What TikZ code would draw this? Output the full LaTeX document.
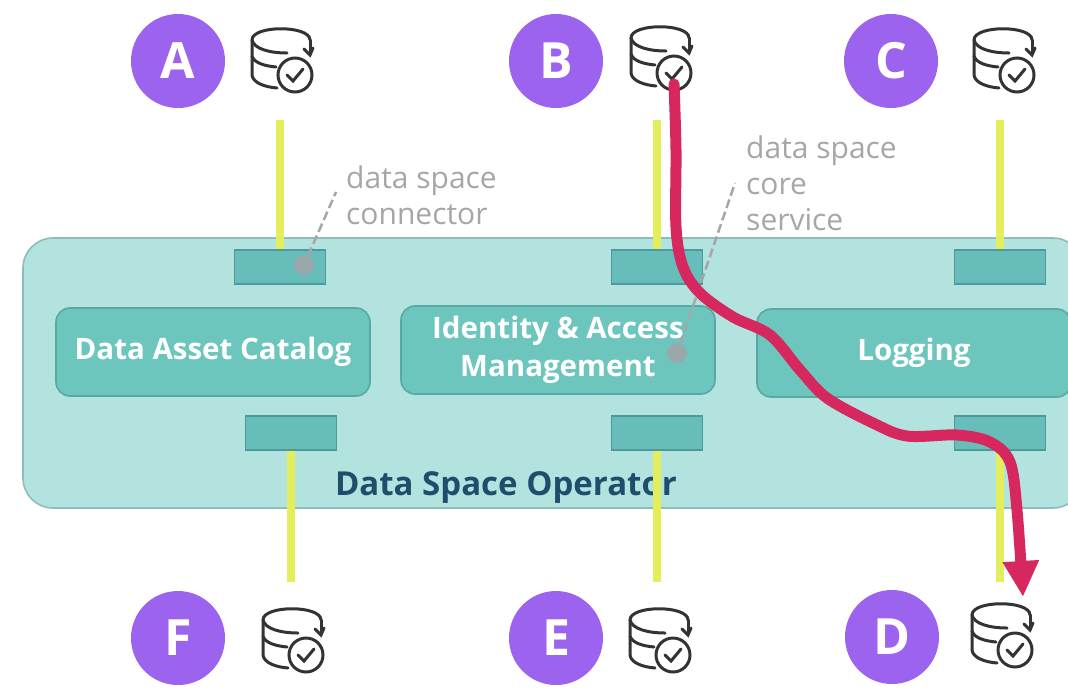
\documentclass[tikz,border=0pt]{standalone}
\usepackage{fontspec}
\setmainfont{Open Sans}
\usetikzlibrary{arrows.meta}
\definecolor{opfill}{HTML}{B3E3DF}
\definecolor{opline}{HTML}{8DBDBB}
\definecolor{svcfill}{HTML}{6CC6BE}
\definecolor{svcline}{HTML}{58A8A4}
\definecolor{portfill}{HTML}{66BDB9}
\definecolor{portline}{HTML}{4E9A9A}
\definecolor{purple}{HTML}{9B63EE}
\definecolor{lineyellow}{HTML}{E4EE5C}
\definecolor{routered}{HTML}{D6275F}
\definecolor{notegray}{HTML}{A6A6A6}
\definecolor{dotgray}{HTML}{9AA8AC}
\definecolor{opnavy}{HTML}{1E4E6C}
\tikzset{
  opbox/.style={draw=opline, line width=1.6pt, fill=opfill, rounded corners=30pt, minimum width=1060pt, minimum height=270pt, inner sep=0pt},
  svcbox/.style={draw=svcline, line width=1.6pt, fill=svcfill, rounded corners=14pt, minimum width=314pt, minimum height=88pt, inner sep=0pt, text=white, align=center, font=\fontsize{29.5}{38}\selectfont\bfseries},
  portbox/.style={draw=portline, line width=1.6pt, fill=portfill, minimum width=91pt, minimum height=34pt, inner sep=0pt},
  member/.style={circle, fill=purple, minimum size=94pt, inner sep=0pt, text=white, font=\fontsize{50}{50}\selectfont\bfseries},
  yline/.style={draw=lineyellow, line width=8pt},
  route/.style={draw=routered, line width=11pt, line cap=round, line join=round, -{Triangle[length=36pt,width=34pt]}},
  note/.style={text=notegray, align=left, anchor=west, inner sep=0pt, font=\fontsize{30}{36}\selectfont},
  notedot/.style={circle, fill=dotgray, minimum size=20pt, inner sep=0pt},
  noteline/.style={draw=notegray, line width=2.5pt, dash pattern=on 9pt off 4pt},
  dbline/.style={draw=black!80, line width=3pt, line cap=round},
  dbicon/.pic={
    \draw[dbline] (2,12) .. controls (2,-3) and (60,-3) .. (60,12);
    \draw[dbline] (2,12) .. controls (4,21) and (20,25) .. (37,25);
    \draw[dbline] (2,12) -- (2,28) .. controls (4,35) and (15,38) .. (26,39);
    \draw[dbline] (2,28) -- (2,47) .. controls (3,55) and (15,59) .. (27,60);
    \draw[dbline] (60,12) -- (60,26);
    \draw[dbline] (54,21) -- (60,27) -- (63,20);
    \draw[dbline] (45,47) circle (17pt);
    \draw[dbline] (37,47) -- (43,53) -- (53,41);
  }
}
\begin{document}
\begin{tikzpicture}[x=1pt,y=-1pt]
\useasboundingbox (0,0) rectangle (1068,689);
\clip (0,0) rectangle (1068,689);
\node[opbox] (operator) at (553,373) {};
\node[svcbox] (catalog) at (213,352) {Data Asset Catalog};
\node[svcbox] (identity) at (558,350) {Identity \& Access\\Management};
\node[svcbox] (logging) at (914,353) {Logging};
\node[font=\fontsize{33}{33}\selectfont\bfseries, text=opnavy] (opname) at (506,487) {Data Space Operator};
\node[portbox] (portA) at (280,267) {};
\node[portbox] (portB) at (657,267) {};
\node[portbox] (portC) at (1000,267) {};
\node[portbox] (portF) at (291,433) {};
\node[portbox] (portE) at (657,433) {};
\node[portbox] (portD) at (1000,433) {};
\node[member] (memberA) at (178,61) {A};
\node[member] (memberB) at (556,61) {B};
\node[member] (memberC) at (891,61) {C};
\node[member] (memberF) at (178,638) {F};
\node[member] (memberE) at (556,638) {E};
\node[member] (memberD) at (892,637) {D};
\pic at (250,28) {dbicon};
\pic at (629,26) {dbicon};
\pic at (972,28) {dbicon};
\pic at (261,608) {dbicon};
\pic at (628,608) {dbicon};
\pic at (970,603) {dbicon};
\coordinate (topA) at (280,120);
\coordinate (topB) at (657,120);
\coordinate (topC) at (1000,120);
\coordinate (lowF) at (291,582);
\coordinate (lowE) at (657,582);
\coordinate (lowD) at (1000,582);
\draw[yline] (topA) -- (portA.north);
\draw[yline] (topB) -- (portB.north);
\draw[yline] (topC) -- (portC.north);
\draw[yline] (lowF) -- (portF.south);
\draw[yline] (lowE) -- (portE.south);
\draw[yline] (lowD) -- (portD.south);
\node[note] (connectorNote) at (346,195) {data space\\connector};
\node[note] (coreNote) at (746,183) {data space\\core\\service};
\node[notedot] (dotConnector) at (304,265) {};
\node[notedot] (dotCore) at (677,353) {};
\coordinate (connectorEnd) at (336,192);
\coordinate (coreEnd) at (735,183);
\draw[noteline] (dotConnector) -- (connectorEnd);
\draw[noteline] (dotCore) -- (coreEnd);
\coordinate (routeStart) at (674,84);
\coordinate (routeEnd) at (1023,597);
\draw[route] plot[smooth, tension=.55] coordinates {(routeStart) (676,150) (676,227) (683,267) (700,293) (733,317) (770,335) (800,370) (827,398) (873,423) (907,436) (957,435) (990,442) (1010,462) (1017,510) (routeEnd)};
\end{tikzpicture}
\end{document}
